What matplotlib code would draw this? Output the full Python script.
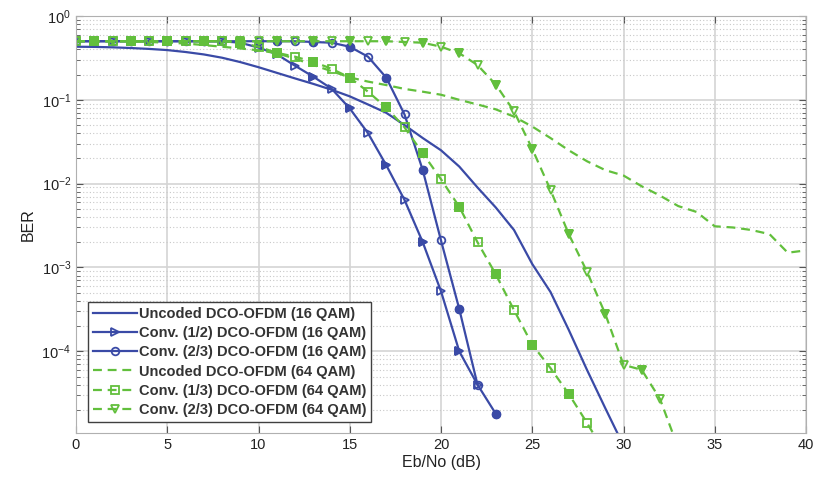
import matplotlib
matplotlib.use("Agg")
import matplotlib.pyplot as plt
import numpy as np

plt.rcParams['font.family'] = ['Liberation Sans', 'DejaVu Sans']
plt.rcParams['mathtext.default'] = 'regular'

BLUE = '#3a4aa6'
GREEN = '#62bf3c'

# Eb/No grids (dB)
snr_unc16 = np.arange(0, 31)
ber_unc16 = [0.43, 0.428, 0.423, 0.415, 0.405, 0.392, 0.372, 0.348, 0.318, 0.282,
             0.245, 0.21, 0.18, 0.155, 0.132, 0.11, 0.088, 0.07, 0.05, 0.035,
             0.025, 0.016, 0.009, 0.0052, 0.0028, 0.0011, 5.1e-4, 1.8e-4, 6.0e-5,
             2.1e-5, 7.5e-6]

snr_c12_16 = np.arange(0, 23)
ber_c12_16 = [0.5, 0.5, 0.5, 0.5, 0.5, 0.5, 0.5, 0.5, 0.5, 0.48,
              0.42, 0.35, 0.255, 0.189, 0.136, 0.079, 0.040, 0.0166, 6.4e-3, 2.0e-3,
              5.2e-4, 1.0e-4, 4.0e-5]

snr_c23_16 = np.arange(0, 24)
ber_c23_16 = [0.5, 0.5, 0.5, 0.5, 0.5, 0.5, 0.5, 0.5, 0.5, 0.5,
              0.5, 0.5, 0.5, 0.49, 0.48, 0.43, 0.327, 0.184, 0.067, 0.0145,
              2.1e-3, 3.2e-4, 4.0e-5, 1.8e-5]

snr_unc64 = np.arange(0, 41)
ber_unc64 = [0.5, 0.5, 0.5, 0.5, 0.49, 0.48, 0.47, 0.45, 0.43, 0.41,
             0.39, 0.36, 0.31, 0.26, 0.22, 0.185, 0.165, 0.15, 0.135, 0.125,
             0.115, 0.1, 0.088, 0.077, 0.063, 0.048, 0.035, 0.025, 0.0185, 0.0145,
             0.0125, 9.3e-3, 7.2e-3, 5.4e-3, 4.6e-3, 3.1e-3, 3.0e-3, 2.8e-3, 2.5e-3,
             1.5e-3, 1.6e-3]

snr_c13_64 = np.arange(0, 30)
ber_c13_64 = [0.5, 0.5, 0.5, 0.5, 0.5, 0.5, 0.5, 0.5, 0.5, 0.48,
              0.43, 0.364, 0.327, 0.284, 0.235, 0.184, 0.125, 0.081, 0.047, 0.023,
              0.0113, 5.3e-3, 2.0e-3, 8.3e-4, 3.1e-4, 1.2e-4, 6.3e-5, 3.1e-5, 1.4e-5,
              6.0e-6]

snr_c23_64 = np.arange(0, 34)
ber_c23_64 = [0.5, 0.5, 0.5, 0.5, 0.5, 0.5, 0.5, 0.5, 0.5, 0.5,
              0.5, 0.5, 0.5, 0.5, 0.5, 0.5, 0.5, 0.5, 0.49, 0.48,
              0.43, 0.36, 0.26, 0.152, 0.073, 0.026, 8.4e-3, 2.5e-3, 8.9e-4, 2.8e-4,
              6.9e-5, 6.0e-5, 2.7e-5, 7.0e-6]

labels = ['Uncoded DCO-OFDM (16 QAM)', 'Conv. (1/2) DCO-OFDM (16 QAM)',
          'Conv. (2/3) DCO-OFDM (16 QAM)', 'Uncoded DCO-OFDM (64 QAM)',
          'Conv. (1/3) DCO-OFDM (64 QAM)', 'Conv. (2/3) DCO-OFDM (64 QAM)']

fig = plt.figure(figsize=(8.16, 4.82), dpi=100)
ax = fig.add_axes([76 / 816, 1 - 433 / 482, 730 / 816, 417 / 482])

dash = (0, (4, 2.6))
LW = 1.6
MS = 5.5

def curve(x, y, color, ls, marker, label):
    # open markers on every point, solid ones on every other point
    h, = ax.semilogy(x, y, color=color, linestyle=ls, lw=LW, marker=marker,
                     ms=MS, mew=1.3, mfc='none', label=label)
    if marker:
        ax.semilogy(x, y, linestyle='none', marker=marker, ms=MS, mew=1.3,
                    color=color, markevery=(1, 2))
    return h

curve(snr_unc16, ber_unc16, BLUE, '-', None, labels[0])
curve(snr_c12_16, ber_c12_16, BLUE, '-', '>', labels[1])
curve(snr_c23_16, ber_c23_16, BLUE, '-', 'o', labels[2])
curve(snr_unc64, ber_unc64, GREEN, dash, None, labels[3])
curve(snr_c13_64, ber_c13_64, GREEN, dash, 's', labels[4])
curve(snr_c23_64, ber_c23_64, GREEN, dash, 'v', labels[5])

ax.set_xlim(0, 40)
ax.set_ylim(1.06e-5, 1)
ax.set_xticks(np.arange(0, 41, 5))
ax.set_yticks([1e0, 1e-1, 1e-2, 1e-3, 1e-4])

ax.grid(True, which='major', color='#d4d4d4', lw=1.2, ls='-')
ax.grid(True, which='minor', axis='y', color='#c8c8c8', lw=0.8, ls=(0, (1, 2)))
ax.set_axisbelow(True)
for s in ax.spines.values():
    s.set_color('#b0b0b0')
    s.set_linewidth(0.8)
ax.tick_params(which='both', direction='in', top=True, right=True,
               colors='#555555', labelcolor='#222222', labelsize=10.5)
ax.tick_params(which='major', length=5)
ax.tick_params(which='minor', length=3)

ax.set_xlabel('Eb/No (dB)', fontsize=11.5, color='#222222', labelpad=2)
ax.set_ylabel('BER', fontsize=11.5, color='#222222', labelpad=4)

leg = ax.legend(loc='lower left', bbox_to_anchor=(0.016, 0.026), borderaxespad=0,
                prop={'size': 10.5, 'weight': 'bold'}, handlelength=3.0,
                handletextpad=0.15, labelspacing=0.36, borderpad=0.35,
                fancybox=False, framealpha=1, edgecolor='#404040')
leg.get_frame().set_linewidth(1.0)
for t in leg.get_texts():
    t.set_color('#333333')

fig.savefig('out.png', dpi=100)
